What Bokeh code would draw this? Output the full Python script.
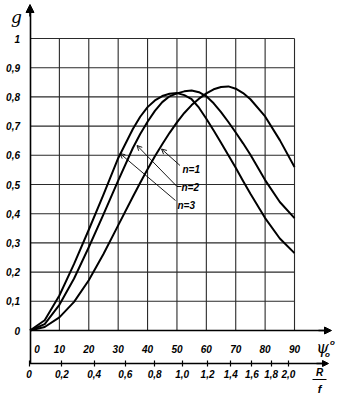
import math
from bokeh.plotting import figure
from bokeh.models import (Range1d, LinearAxis, FixedTicker, CustomJSTickFormatter,
                          Arrow, NormalHead, OpenHead, Label)
from bokeh.embed import file_html
from bokeh.resources import INLINE

# ---------------- data ----------------
psi_deg = [0, 5, 10, 15, 20, 25, 30, 35, 37.5, 40, 42.5, 45, 47.5, 50, 52.5, 55,
           57.5, 60, 62.5, 65, 67.5, 70, 72.5, 75, 80, 85, 90]
g_n1 = [0.0, 0.012, 0.045, 0.098, 0.172, 0.262, 0.36, 0.458, 0.506, 0.552, 0.597,
        0.638, 0.677, 0.713, 0.745, 0.772, 0.794, 0.812, 0.826, 0.834, 0.836, 0.828,
        0.813, 0.792, 0.733, 0.652, 0.56]
g_n2 = [0.0, 0.022, 0.088, 0.178, 0.285, 0.398, 0.513, 0.625, 0.673, 0.715, 0.752,
        0.782, 0.802, 0.812, 0.819, 0.822, 0.816, 0.802, 0.778, 0.748, 0.714, 0.678,
        0.641, 0.602, 0.515, 0.44, 0.385]
g_n3 = [0.0, 0.035, 0.12, 0.228, 0.345, 0.465, 0.59, 0.69, 0.732, 0.765, 0.788,
        0.803, 0.811, 0.813, 0.806, 0.792, 0.763, 0.725, 0.685, 0.643, 0.600, 0.557,
        0.512, 0.468, 0.385, 0.315, 0.265]
curve_labels = ["n=1", "n=2", "n=3"]

psi_ticks = [0, 10, 20, 30, 40, 50, 60, 70, 80, 90]
g_ticks = [0, 0.1, 0.2, 0.3, 0.4, 0.5, 0.6, 0.7, 0.8, 0.9, 1.0]
rf_ticks = [0, 0.2, 0.4, 0.6, 0.8, 1.0, 1.2, 1.4, 1.6, 1.8, 2.0]

# ---------------- geometry ----------------
W, H = 354, 397
X0, PXD = 29.5, 2.939      # psi = 0 at x px, px per degree
Y0, PXG = 330.0, 292.0     # g = 0 at y px, px per unit of g
RX0, RPXD = 28.5, 2.883    # second (R/f) axis


def dx(px):
    return (px - X0) / PXD


def dy(py):
    return (Y0 - py) / PXG


p = figure(width=W, height=H,
           x_range=Range1d(dx(0), dx(W)), y_range=Range1d(dy(H), dy(0)),
           x_axis_type=None, y_axis_type=None,
           toolbar_location=None, output_backend="svg", min_border=0)
p.outline_line_color = None
p.background_fill_color = "white"
p.border_fill_color = "white"
p.extra_x_ranges = {"rf": Range1d(-RX0 / RPXD, (W - RX0) / RPXD)}

# ---------------- grid (from tick arrays) ----------------
gx = psi_ticks[1:]
p.segment(x0=gx, y0=[g_ticks[0]] * len(gx), x1=gx, y1=[g_ticks[-1]] * len(gx),
          line_color="#2a2a2a", line_width=1.1)
gy = g_ticks[1:]
p.segment(x0=[psi_ticks[0]] * len(gy), y0=gy, x1=[psi_ticks[-1]] * len(gy), y1=gy,
          line_color="#2a2a2a", line_width=1.1)

# ---------------- curves ----------------
for g in (g_n1, g_n2, g_n3):
    p.line(psi_deg, g, line_color="black", line_width=2.0, line_join="round")

FONT = "Liberation Sans"

# ---------------- axes ----------------
yfmt = CustomJSTickFormatter(code="""
if (Math.abs(tick) < 1e-9) return "0";
if (Math.abs(tick - 1) < 1e-9) return "1";
return tick.toFixed(1).replace(".", ",");
""")
yax = LinearAxis(fixed_location=0, bounds=(dy(363), dy(7)),
                 ticker=FixedTicker(ticks=g_ticks), formatter=yfmt,
                 major_tick_line_color=None, minor_tick_line_color=None,
                 axis_line_width=1.6, axis_line_color="black",
                 major_label_standoff=4,
                 major_label_text_font=FONT, major_label_text_font_style="bold italic",
                 major_label_text_font_size="10px", major_label_text_color="black")
p.add_layout(yax, "left")

xfmt = CustomJSTickFormatter(code="""
return (tick == 0) ? "\u2007\u2007 0" : tick.toFixed(0);
""")
xax = LinearAxis(fixed_location=0, bounds=(0, dx(328)),
                 ticker=FixedTicker(ticks=psi_ticks), formatter=xfmt,
                 major_tick_line_color=None, minor_tick_line_color=None,
                 axis_line_width=1.6, axis_line_color="black",
                 major_label_standoff=7,
                 major_label_text_font=FONT, major_label_text_font_style="bold italic",
                 major_label_text_font_size="10px", major_label_text_color="black")
p.add_layout(xax, "below")

rf_pos = [2 * math.degrees(math.atan(r / 2)) for r in rf_ticks]
rffmt = CustomJSTickFormatter(code="""
const r = 2*Math.tan(tick*Math.PI/360);
if (r < 1e-6) return "0";
return r.toFixed(1).replace(".", ",");
""")
rfax = LinearAxis(x_range_name="rf", fixed_location=dy(363),
                  bounds=(0, (324 - RX0) / RPXD),
                  ticker=FixedTicker(ticks=rf_pos), formatter=rffmt,
                  major_tick_in=3, major_tick_out=3, major_tick_line_width=1.2,
                  minor_tick_line_color=None,
                  axis_line_width=1.3, axis_line_color="black",
                  major_label_standoff=3,
                  major_label_text_font=FONT, major_label_text_font_style="bold italic",
                  major_label_text_font_size="10px", major_label_text_color="black")
p.add_layout(rfax, "below")

# axis arrows
p.add_layout(Arrow(end=NormalHead(size=8, fill_color="black", line_color="black"),
                   x_start=0, y_start=dy(16), x_end=0, y_end=dy(4), line_width=1.6))
p.add_layout(Arrow(end=NormalHead(size=7, fill_color="black", line_color="black"),
                   x_start=dx(318), y_start=0, x_end=dx(331), y_end=0, line_width=1.6))
p.add_layout(Arrow(end=NormalHead(size=6, fill_color="black", line_color="black"),
                   x_start=dx(316), y_start=dy(363), x_end=dx(328), y_end=dy(363),
                   line_width=1.3))

# ---------------- axis titles ----------------
def lab(x, y, text, size="10px", style="bold italic", align="left", font=FONT):
    p.add_layout(Label(x=x, y=y, text=text, text_font=font, text_font_size=size,
                       text_font_style=style, text_align=align,
                       text_baseline="middle", text_color="black"))

lab(dx(16), dy(16), "g", size="17px", style="italic", align="center", font="DejaVu Serif")
lab(dx(322), dy(347), "ψ", size="16px", style="italic", align="center", font="DejaVu Serif")
lab(dx(332), dy(342), "o", size="8px", style="bold italic", align="center")
lab(dx(327), dy(354), "o", size="8px", style="bold italic", align="center")
lab(dx(319), dy(372), "R", size="10px", align="center")
lab(dx(319), dy(388), "f", size="11px", align="center")
p.segment(x0=[dx(312)], y0=[dy(379)], x1=[dx(326)], y1=[dy(379)],
          line_color="black", line_width=1.2)

# ---------------- curve labels with leader lines ----------------
leaders = [((179.5, 165), (161, 148.5)),
           ((176.5, 186), (136.5, 145)),
           ((175, 200), (119.5, 153))]
text_pos = [(182, 169), (181, 187), (177, 205)]
for name, ((sx, sy), (ex, ey)), (tx, ty) in zip(curve_labels, leaders, text_pos):
    p.add_layout(Arrow(end=OpenHead(size=5, line_width=0.9, line_color="black"),
                       x_start=dx(sx), y_start=dy(sy), x_end=dx(ex), y_end=dy(ey),
                       line_width=0.9, line_color="black"))
    lab(dx(tx), dy(ty), name, size="10px")
p.segment(x0=[dx(176.5)], y0=[dy(186)], x1=[dx(181)], y1=[dy(186)],
          line_color="black", line_width=0.9)

open("out.html", "w").write(file_html(p, INLINE))
